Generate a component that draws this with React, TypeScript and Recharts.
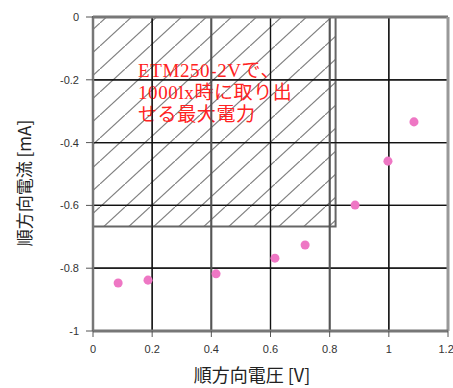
import React from "react"
import { ScatterChart, Scatter, XAxis, YAxis, CartesianGrid, ReferenceArea, ReferenceLine, Label } from "recharts"

// forward voltage [V] / forward current [mA]
const voltage = [0.085, 0.186, 0.416, 0.615, 0.717, 0.886, 0.997, 1.085]
const current = [-0.847, -0.838, -0.818, -0.768, -0.726, -0.599, -0.459, -0.334]

const xTicks = [0, 0.2, 0.4, 0.6, 0.8, 1, 1.2]
const yTicks = [0, -0.2, -0.4, -0.6, -0.8, -1]

// max power rectangle (hatched)
const maxPowerV = 0.82
const maxPowerI = -0.667

const noteLines = ["ETM250-2Vで、", "1000lx時に取り出", "せる最大電力"]

const points = voltage.map((v, i) => ({ v, i: current[i] }))

const tickStyle = { fill: "#333", fontSize: 11, fontFamily: "'Liberation Sans', Arial, sans-serif" }

export default function App() {
  return (
    <div style={{ position: "absolute", left: 0, top: 0, width: 453, height: 388, background: "#fff" }}>
      <ScatterChart width={453} height={388} margin={{ top: 17, right: 5, bottom: 0, left: 0 }}>
        <defs>
          <pattern id="hatch" patternUnits="userSpaceOnUse" width="25" height="23">
            <line x1="0" y1="23" x2="25" y2="0" stroke="#000" strokeWidth={1.2} />
          </pattern>
        </defs>
        <CartesianGrid stroke="#111" strokeWidth={1.2} horizontalValues={yTicks} verticalValues={xTicks} />
        <XAxis
          type="number"
          dataKey="v"
          domain={[0, 1.2]}
          ticks={xTicks}
          height={57}
          tick={tickStyle}
          tickSize={6}
          tickMargin={8}
          axisLine={{ stroke: "#777", strokeWidth: 3 }}
          tickLine={{ stroke: "#555" }}
          label={
            <Label
              content={() => (
                <text x={252} y={382} textAnchor="middle" fontSize={18} fill="#222"
                  fontFamily="'Noto Sans CJK JP', sans-serif">順方向電圧 [V]</text>
              )}
            />
          }
        />
        <YAxis
          type="number"
          dataKey="i"
          domain={[-1, 0]}
          ticks={yTicks}
          width={93}
          tick={tickStyle}
          tickSize={7}
          tickMargin={7}
          axisLine={{ stroke: "#777", strokeWidth: 2.5 }}
          tickLine={{ stroke: "#555" }}
          tickFormatter={(t: number) => (t === 0 ? "0" : String(t))}
          label={
            <Label
              content={() => (
                <text x={0} y={0} transform="translate(31,183) rotate(-90)" textAnchor="middle" fontSize={17}
                  fill="#222" fontFamily="'Noto Sans CJK JP', sans-serif">順方向電流 [mA]</text>
              )}
            />
          }
        />
        <ReferenceArea
          x1={0}
          x2={maxPowerV}
          y1={maxPowerI}
          y2={0}
          fill="url(#hatch)"
          stroke="#666"
          strokeWidth={2}
          label={
            <Label
              content={() => (
                <text fill="#ff2222" fontSize={19} letterSpacing={0.6}
                  fontFamily="'Liberation Serif', 'Noto Sans CJK JP', serif">
                  {noteLines.map((t, k) => (
                    <tspan key={k} x={138} y={77 + k * 22}>{t}</tspan>
                  ))}
                </text>
              )}
            />
          }
        />
        {yTicks.slice(1, 5).map((t) => (
          <ReferenceLine key={"h" + t} y={t} stroke="#111" strokeWidth={1.2} />
        ))}
        {xTicks.slice(1, 6).map((t) => (
          <ReferenceLine key={"v" + t} x={t} stroke={t === 0.4 || t === 0.8 ? "#555" : "#111"} strokeWidth={t === 0.4 || t === 0.8 ? 2 : 1.2} />
        ))}
        <ReferenceLine y={0} stroke="#777" strokeWidth={3} />
        <ReferenceLine x={1.2} stroke="#999" strokeWidth={3} />
        <Scatter data={points} fill="#ee77c4" shape="circle" isAnimationActive={false} />
      </ScatterChart>
    </div>
  )
}
